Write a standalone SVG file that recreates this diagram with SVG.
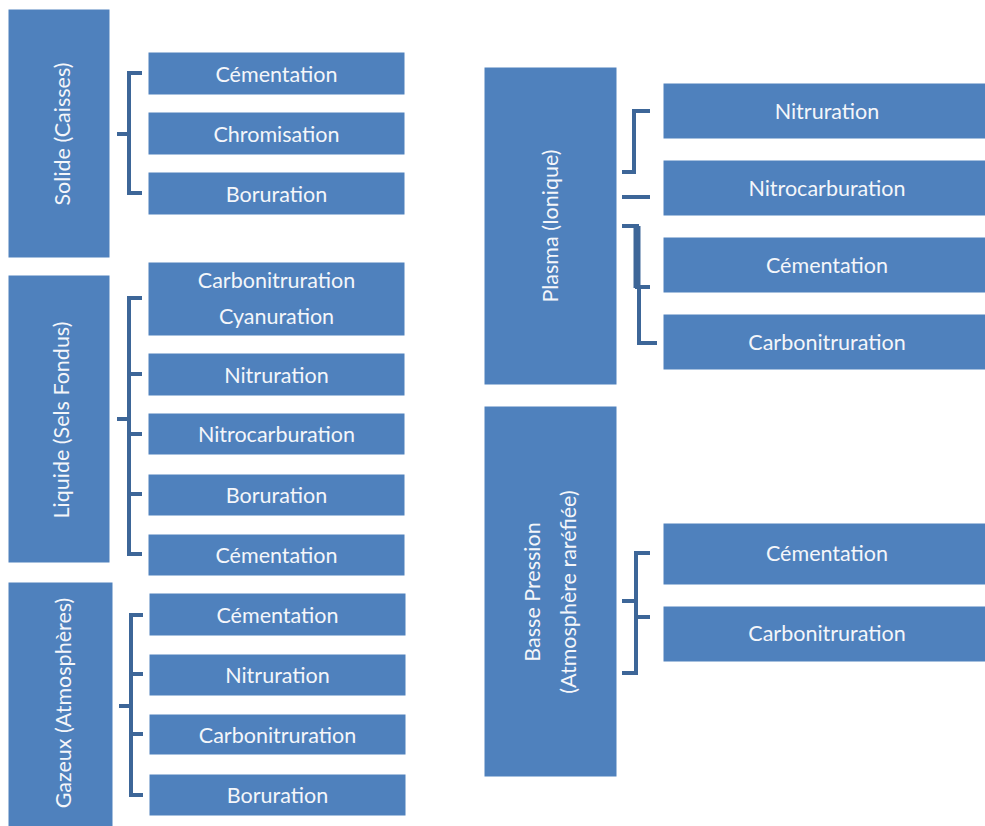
<svg xmlns="http://www.w3.org/2000/svg" width="985" height="826" viewBox="0 0 985 826">
<style>
.box{fill:#4F81BD;stroke:#ffffff;stroke-width:1}
.t{fill:#F4F6FA;font-family:Lato,"Liberation Sans",sans-serif;font-size:21.5px;text-anchor:middle;dominant-baseline:central}
.br{fill:none;stroke:#3D6698;stroke-width:4;stroke-linejoin:miter}
</style>
<rect width="985" height="826" fill="#ffffff"/>
<g id="connectors">
<path class="br" d="M142 73 H129 V193 H142 M117 134 H129"/>
<path class="br" d="M142 298 H129 V554 H142 M129 374 H142 M129 434 H142 M129 494 H142 M117 419 H129"/>
<path class="br" d="M143 615 H131 V795 H143 M131 674 H143 M131 734 H143 M119 706 H131"/>
<path class="br" d="M650 111 H634 V172 H622"/>
<path class="br" d="M622 197 H650"/>
<path class="br" d="M622 226 H637 V287 H650"/>
<path class="br" d="M637 226 V288" style="stroke-width:7"/>
<path class="br" d="M639 285 V343 H657"/>
<path class="br" d="M650 553 H636 V673 H622 M622 601 H636 M636 617 H650"/>
</g>
<g id="solide"><rect class="box" x="8" y="9" width="102" height="249"/><text class="t" transform="translate(62 134) rotate(-90)">Solide (Caisses)</text></g>
<g id="solide-cementation"><rect class="box" x="148" y="52" width="257" height="43"/><text class="t" x="276.5" y="73.5">Cémentation</text></g>
<g id="solide-chromisation"><rect class="box" x="148" y="112" width="257" height="43"/><text class="t" x="276.5" y="133.5">Chromisation</text></g>
<g id="solide-boruration"><rect class="box" x="148" y="172" width="257" height="43"/><text class="t" x="276.5" y="193.5">Boruration</text></g>
<g id="liquide"><rect class="box" x="8" y="275" width="102" height="288"/><text class="t" transform="translate(61 420) rotate(-90)">Liquide (Sels Fondus)</text></g>
<g id="liquide-carbo"><rect class="box" x="148" y="262" width="257" height="74"/><text class="t" x="276.5" y="280">Carbonitruration</text><text class="t" x="276.5" y="316">Cyanuration</text></g>
<g id="liquide-nitruration"><rect class="box" x="148" y="353" width="257" height="43"/><text class="t" x="276.5" y="374.5">Nitruration</text></g>
<g id="liquide-nitrocarburation"><rect class="box" x="148" y="413" width="257" height="42"/><text class="t" x="276.5" y="434">Nitrocarburation</text></g>
<g id="liquide-boruration"><rect class="box" x="148" y="474" width="257" height="42"/><text class="t" x="276.5" y="495">Boruration</text></g>
<g id="liquide-cementation"><rect class="box" x="148" y="534" width="257" height="42"/><text class="t" x="276.5" y="555">Cémentation</text></g>
<g id="gazeux"><rect class="box" x="8" y="582" width="105" height="250"/><text class="t" transform="translate(63 703) rotate(-90)">Gazeux (Atmosphères)</text></g>
<g id="gazeux-cementation"><rect class="box" x="149" y="593" width="257" height="43"/><text class="t" x="277.5" y="614.5">Cémentation</text></g>
<g id="gazeux-nitruration"><rect class="box" x="149" y="654" width="257" height="42"/><text class="t" x="277.5" y="675">Nitruration</text></g>
<g id="gazeux-carbonitruration"><rect class="box" x="149" y="714" width="257" height="41"/><text class="t" x="277.5" y="734.5">Carbonitruration</text></g>
<g id="gazeux-boruration"><rect class="box" x="149" y="774" width="257" height="42"/><text class="t" x="277.5" y="795">Boruration</text></g>
<g id="plasma"><rect class="box" x="484" y="67" width="133" height="318"/><text class="t" transform="translate(550 226) rotate(-90)">Plasma (Ionique)</text></g>
<g id="plasma-nitruration"><rect class="box" x="663" y="83" width="328" height="56"/><text class="t" x="827" y="111">Nitruration</text></g>
<g id="plasma-nitrocarburation"><rect class="box" x="663" y="160" width="328" height="56"/><text class="t" x="827" y="188">Nitrocarburation</text></g>
<g id="plasma-cementation"><rect class="box" x="663" y="237" width="328" height="56"/><text class="t" x="827" y="265">Cémentation</text></g>
<g id="plasma-carbonitruration"><rect class="box" x="663" y="314" width="328" height="56"/><text class="t" x="827" y="342">Carbonitruration</text></g>
<g id="basse"><rect class="box" x="484" y="406" width="133" height="371"/><text class="t" transform="translate(532 592) rotate(-90)">Basse Pression</text><text class="t" transform="translate(568 592) rotate(-90)">(Atmosphère raréfiée)</text></g>
<g id="basse-cementation"><rect class="box" x="663" y="523" width="328" height="62"/><text class="t" x="827" y="553">Cémentation</text></g>
<g id="basse-carbonitruration"><rect class="box" x="663" y="606" width="328" height="56"/><text class="t" x="827" y="633">Carbonitruration</text></g>
</svg>
